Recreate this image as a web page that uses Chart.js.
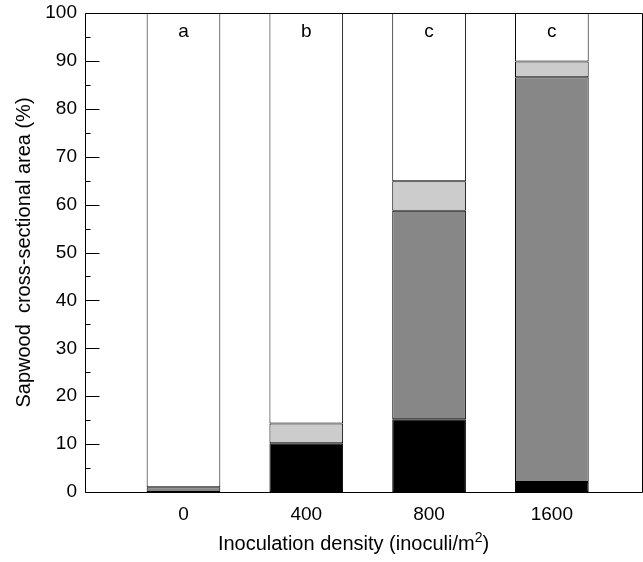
<!DOCTYPE html>
<html lang="en">
<head>
<meta charset="UTF-8">
<title>Sapwood cross-sectional area</title>
<script src="https://cdn.jsdelivr.net/npm/chart.js"></script>
<style>
  body { margin: 0; background: #fff; }
  #wrap { width: 643px; height: 562px; }
</style>
</head>
<body>
<div id="wrap"><canvas id="chart"></canvas></div>
<script>
// values (% of sapwood cross-sectional area), null = no segment
const densities = ['0', '400', '800', '1600'];
const blackPart = [null, 10.2, 15.2, 2.1];
const darkGrayPart = [1.0, null, 43.5, 84.5];
const lightGrayPart = [null, 4.1, 6.2, 3.3];
const whitePart = [99.0, 85.7, 35.1, 10.1];
const groupLetters = ['a', 'b', 'c', 'c'];
const yTicks = [0, 10, 20, 30, 40, 50, 60, 70, 80, 90, 100];
const yMinorTicks = [5, 15, 25, 35, 45, 55, 65, 75, 85, 95];

const FONT = '"Liberation Sans", Arial, Helvetica, sans-serif';

function pts(arr) {
    return arr.map((v, i) => ({ x: i, y: v }));
}

function seg(label, arr, color) {
    return {
        label: label,
        data: pts(arr),
        backgroundColor: color,
        borderColor: '#000',
        borderWidth: 1,
        borderSkipped: false,
        barPercentage: 0.6,
        categoryPercentage: 1.0
    };
}

// frame, inward ticks, group letters and the x title with a real superscript
const decorations = {
    id: 'decorations',
    afterDatasetsDraw(chart) {
        const ctx = chart.ctx;
        const a = chart.chartArea;
        const y = chart.scales.y;
        const x = chart.scales.x;
        const L = Math.round(a.left) + 0.5, R = Math.round(a.right) + 0.5;
        const T = Math.round(a.top) + 0.5, B = Math.round(a.bottom) + 0.5;
        ctx.save();
        ctx.strokeStyle = '#000';
        ctx.lineWidth = 1;
        ctx.beginPath();
        ctx.moveTo(L, B);
        ctx.lineTo(L, T);
        ctx.lineTo(R, T);
        ctx.lineTo(R, B);
        ctx.lineTo(L, B);
        ctx.stroke();

        ctx.beginPath();
        yTicks.forEach(v => {
            const py = Math.round(y.getPixelForValue(v)) + 0.5;
            ctx.moveTo(L, py);
            ctx.lineTo(L + 14, py);
        });
        yMinorTicks.forEach(v => {
            const py = Math.round(y.getPixelForValue(v)) + 0.5;
            ctx.moveTo(L, py);
            ctx.lineTo(L + 5, py);
        });
        ctx.stroke();

        ctx.fillStyle = '#000';
        ctx.font = '19px ' + FONT;
        ctx.textAlign = 'center';
        ctx.textBaseline = 'middle';
        groupLetters.forEach((t, i) => {
            ctx.fillText(t, x.getPixelForValue(i), y.getPixelForValue(96));
        });

        // x title
        const main = 'Inoculation density (inoculi/m';
        const sup = '2';
        const tail = ')';
        const big = '20px ' + FONT, small = '14px ' + FONT;
        ctx.font = big;
        const w1 = ctx.measureText(main).width;
        const w3 = ctx.measureText(tail).width;
        ctx.font = small;
        const w2 = ctx.measureText(sup).width;
        const total = w1 + w2 + w3;
        let cx = (a.left + a.right) / 2 - 10 - total / 2;
        const base = 550;
        ctx.textAlign = 'left';
        ctx.textBaseline = 'alphabetic';
        ctx.font = big;
        ctx.fillText(main, cx, base);
        cx += w1;
        ctx.font = small;
        ctx.fillText(sup, cx, base - 8);
        cx += w2;
        ctx.font = big;
        ctx.fillText(tail, cx, base);
        ctx.restore();
    }
};

new Chart(document.getElementById('chart'), {
    type: 'bar',
    data: {
        datasets: [
            seg('black', blackPart, '#000000'),
            seg('dark gray', darkGrayPart, '#878787'),
            seg('light gray', lightGrayPart, '#cccccc'),
            seg('white', whitePart, '#ffffff')
        ]
    },
    options: {
        responsive: true,
        maintainAspectRatio: false,
        animation: false,
        layout: { padding: { top: 13, right: 1, left: 0, bottom: 0 } },
        plugins: {
            legend: { display: false },
            tooltip: { enabled: false }
        },
        scales: {
            x: {
                type: 'linear',
                stacked: true,
                offset: false,
                min: -0.802,
                max: 3.734,
                afterBuildTicks: s => { s.ticks = densities.map((d, i) => ({ value: i })); },
                afterFit: s => { s.height = 70; s.paddingLeft = 0; s.paddingRight = 0; },
                grid: { display: false, drawTicks: false },
                border: { display: false },
                ticks: {
                    padding: 11,
                    color: '#000',
                    font: { family: FONT, size: 19 },
                    callback: v => densities[v]
                }
            },
            y: {
                stacked: true,
                min: 0,
                max: 100,
                afterBuildTicks: s => { s.ticks = yTicks.map(v => ({ value: v })); },
                afterFit: s => { s.width = 85; s.paddingTop = 0; s.paddingBottom = 0; },
                grid: { display: false, drawTicks: false },
                border: { display: false },
                ticks: {
                    padding: 8,
                    color: '#000',
                    font: { family: FONT, size: 19 }
                },
                title: {
                    display: true,
                    text: 'Sapwood  cross-sectional area (%)',
                    color: '#000',
                    font: { family: FONT, size: 20 },
                    padding: { top: 12, bottom: 0 }
                }
            }
        }
    },
    plugins: [decorations]
});
</script>
</body>
</html>
